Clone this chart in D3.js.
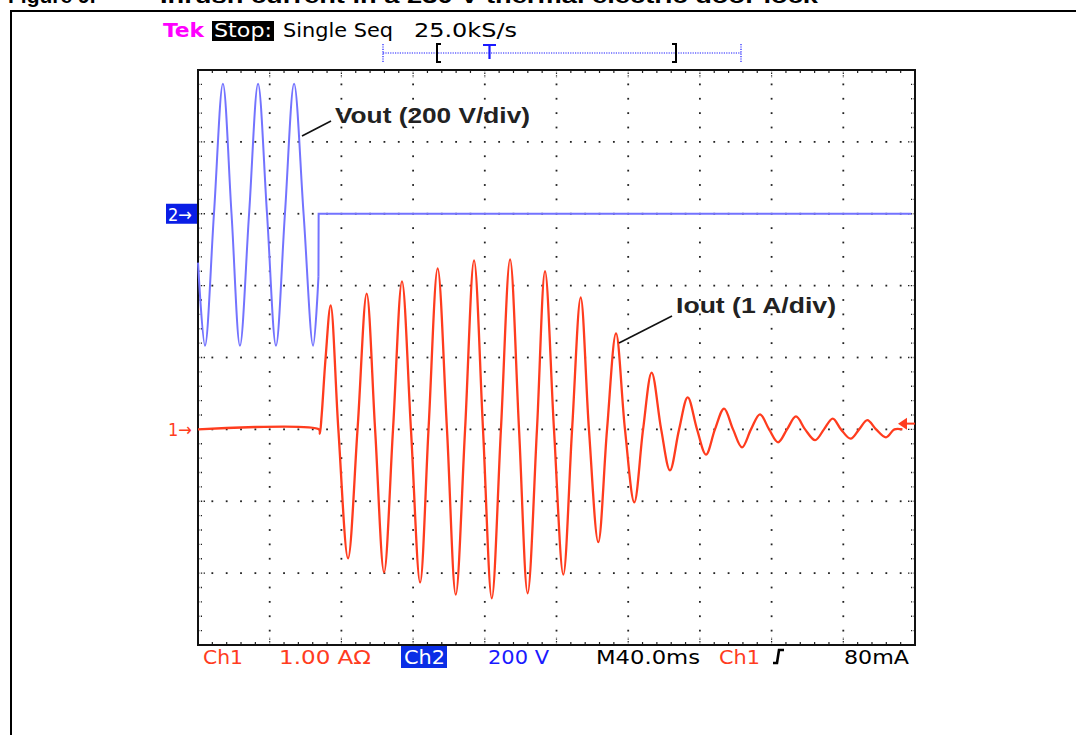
<!DOCTYPE html>
<html>
<head>
<meta charset="utf-8">
<script src="https://cdn.jsdelivr.net/npm/d3@7"></script>
<style>
  html, body { margin: 0; padding: 0; background: #fff; }
  svg { display: block; }
</style>
</head>
<body>
<svg id="chart" width="1076" height="735"></svg>
<script>
// ---------------- DATA ----------------
// Channel 2 : Vout (V), time in ms from left edge of screen (40 ms/div)
const voutTime  = [0, 3.9, 8.9, 13.9, 18.7, 23.4, 28.5, 33.5, 38.5, 43.5, 48.5, 53.6, 58.9, 64.2, 67.2];
const voutVolts = [-136, -367, 0, 362, 0, -367, 0, 362, 0, -367, 0, 362, 0, -367, -175];
// after the supply is cut: the trace jumps back to 0 V and stays flat
const voutOffTime  = [67.2, 67.3, 150, 250, 398];
const voutOffVolts = [-175, 0, 0, 0, 0];

// Channel 1 : Iout (A)
const ioutTime = [0, 67.5, 68.0, 69.0, 71.2, 74.0, 78.3, 83.7, 89.0, 94.1, 98.8, 103.8, 108.8, 113.8,
  118.8, 123.9, 128.6, 133.7, 138.9, 143.8, 149.0, 154.0, 159.0, 163.9, 169.0, 174.1, 179.1, 183.9,
  189.1, 193.6, 198.6, 203.8, 208.7, 213.5, 218.1, 223.3, 228.2, 233.2, 238.2, 243.4, 248.3, 253.1,
  258.4, 263.3, 268.4, 273.2, 278.4, 283.4, 288.4, 293.5, 298.5, 303.5, 308.5, 313.5, 318.6, 323.6,
  328.6, 333.6, 338.7, 344.3, 349.2, 354.1, 358.7, 364.1, 368.8, 373.4, 378.3, 383.8, 388.5, 393];
const ioutAmps = [0, 0, -0.06, 0.2, 1.0, 1.725, 0, -1.795, 0, 1.89, 0, -1.99, 0, 2.06,
  0, -2.13, 0, 2.24, 0, -2.30, 0, 2.35, 0, -2.35, 0, 2.365, 0, -2.28,
  0, 2.20, 0, -2.02, 0, 1.835, 0, -1.57, 0, 1.335, 0, -1.015, 0, 0.79,
  0, -0.57, 0, 0.445, 0, -0.35, 0, 0.29, 0, -0.25, 0, 0.21, 0, -0.18,
  0, 0.18, 0, -0.15, 0, 0.15, 0, -0.13, 0, 0.13, 0, -0.11, 0, 0];

// Scope settings / labels
const titleFig   = "Figure 9.";
const titleText  = "Inrush current in a 230 V thermal electric door lock";
const headerLabels = ["Tek", "Stop:", "Single Seq", "25.0kS/s"];
const footerLabels = ["Ch1", "1.00 AΩ", "Ch2", "200 V", "M40.0ms", "Ch1", "80mA"];
const traceLabels  = ["Vout (200 V/div)", "Iout (1 A/div)"];
const timeDomain = [0, 400];      // ms across 10 div
const currentDomain = [-3, 5];    // A across 8 div (ch1 ground 5 div from top)
const voltDomain = [-1200, 400];  // V across 8 div (ch2 ground 2 div from top)
const triggerLevel = 0.08;        // A

// ---------------- LAYOUT ----------------
const L = 198, R = 915, T = 70, B = 645;
const RED = "#ff3c1e", BLUE_TRACE = "#7373ff", BLUE = "#1a1aff", MAG = "#ff00ff";
const SCOPE_FONT = "'DejaVu Sans Condensed', 'DejaVu Sans', sans-serif";

const svg = d3.select("#chart");

const x  = d3.scaleLinear().domain(timeDomain).range([L, R]);
const yI = d3.scaleLinear().domain(currentDomain).range([B, T]);
const yV = d3.scaleLinear().domain(voltDomain).range([B, T]);
const gx = d3.scaleLinear().domain([0, 10]).range([L, R]);
const gy = d3.scaleLinear().domain([0, 8]).range([T, B]);

// outer figure frame
svg.append("rect").attr("x", 11).attr("y", 11).attr("width", 1100).attr("height", 800)
  .attr("fill", "none").attr("stroke", "#000").attr("stroke-width", 2);

// clipped title (only the lower part is visible, as in the reference)
svg.append("text").attr("x", 8).attr("y", 3)
  .attr("font-family", "'Liberation Sans', Arial, sans-serif").attr("font-weight", "bold")
  .attr("font-size", 21).text(titleFig);
svg.append("text").attr("x", 160).attr("y", 3)
  .attr("font-family", "'Liberation Sans', Arial, sans-serif").attr("font-weight", "bold")
  .attr("font-size", 21).attr("textLength", 658).attr("lengthAdjust", "spacingAndGlyphs")
  .text(titleText);

// ---------------- GRATICULE ----------------
const grat = svg.append("g");
const minorX = d3.range(0, 50 + 1).map(i => i / 5);
const minorY = d3.range(0, 40 + 1).map(i => i / 5);
const dot = 1.8;
// dotted vertical major lines
d3.range(1, 10).forEach(i => {
  minorY.slice(1, -1).forEach(j => {
    grat.append("rect").attr("x", gx(i) - dot / 2).attr("y", gy(j) - dot / 2)
      .attr("width", dot).attr("height", dot).attr("fill", "#222");
  });
});
// dotted horizontal major lines
d3.range(1, 8).forEach(j => {
  minorX.slice(1, -1).forEach(i => {
    if (Number.isInteger(i)) return;
    grat.append("rect").attr("x", gx(i) - dot / 2).attr("y", gy(j) - dot / 2)
      .attr("width", dot).attr("height", dot).attr("fill", "#222");
  });
});
// border minor ticks
minorX.slice(1, -1).forEach(i => {
  const len = Number.isInteger(i) ? 8 : 3;
  [[T, 1], [B, -1]].forEach(([yy, s]) => {
    grat.append("line").attr("x1", gx(i)).attr("x2", gx(i))
      .attr("y1", yy).attr("y2", yy + s * len)
      .attr("stroke", "#222").attr("stroke-width", 1.2)
      .attr("stroke-dasharray", Number.isInteger(i) ? "1.3,1.3" : null);
  });
});
minorY.slice(1, -1).forEach(j => {
  const len = Number.isInteger(j) ? 8 : 4;
  [[L, 1], [R, -1]].forEach(([xx, s]) => {
    grat.append("line").attr("y1", gy(j)).attr("y2", gy(j))
      .attr("x1", xx).attr("x2", xx + s * len)
      .attr("stroke", "#222").attr("stroke-width", 1.3)
      .attr("stroke-dasharray", "1.4,1.4");
  });
});
// screen border
grat.append("rect").attr("x", L).attr("y", T).attr("width", R - L).attr("height", B - T)
  .attr("fill", "none").attr("stroke", "#111").attr("stroke-width", 2);

// ---------------- TRACES ----------------
const curve = d3.curveCatmullRom.alpha(0.5);
const lineV = d3.line().x(d => x(d[0])).y(d => yV(d[1])).curve(curve);
const lineVoff = d3.line().x(d => x(d[0])).y(d => yV(d[1]));
const lineI = d3.line().x(d => x(d[0])).y(d => yI(d[1])).curve(curve);

svg.append("path").datum(d3.zip(voutTime, voutVolts)).attr("d", lineV)
  .attr("fill", "none").attr("stroke", BLUE_TRACE).attr("stroke-width", 2);
svg.append("path").datum(d3.zip(voutOffTime, voutOffVolts)).attr("d", lineVoff)
  .attr("fill", "none").attr("stroke", BLUE_TRACE).attr("stroke-width", 2);
svg.append("path").datum(d3.zip(ioutTime, ioutAmps)).attr("d", lineI)
  .attr("fill", "none").attr("stroke", RED).attr("stroke-width", 2.3);

// ---------------- MARKERS ----------------
// ch2 ground marker
const ch2y = yV(0);
svg.append("rect").attr("x", 166).attr("y", ch2y - 10).attr("width", 31).attr("height", 20).attr("fill", "#0a1ee6");
svg.append("text").attr("x", 168).attr("y", ch2y + 7).attr("fill", "#fff")
  .attr("font-family", SCOPE_FONT).attr("font-size", 18).text("2→");
// ch1 ground marker
const ch1y = yI(0);
svg.append("text").attr("x", 168).attr("y", ch1y + 7).attr("fill", RED)
  .attr("font-family", SCOPE_FONT).attr("font-size", 18).text("1→");
// trigger level arrow
const trY = yI(triggerLevel);
svg.append("path").attr("d", `M${R - 17},${trY} L${R - 8},${trY - 6} L${R - 8},${trY + 6} Z`).attr("fill", RED);
svg.append("line").attr("x1", R - 9).attr("x2", R).attr("y1", trY).attr("y2", trY)
  .attr("stroke", RED).attr("stroke-width", 2);

// ---------------- HEADER ----------------
const hdrY = 37;
svg.append("text").attr("x", 163).attr("y", hdrY).attr("fill", MAG)
  .attr("font-family", SCOPE_FONT).attr("font-size", 20).attr("font-weight", "bold")
  .attr("textLength", 41).attr("lengthAdjust", "spacingAndGlyphs").text(headerLabels[0]);
svg.append("rect").attr("x", 212).attr("y", 21).attr("width", 62).attr("height", 20).attr("fill", "#000");
svg.append("text").attr("x", 214).attr("y", hdrY).attr("fill", "#fff")
  .attr("font-family", SCOPE_FONT).attr("font-size", 19)
  .attr("textLength", 58).attr("lengthAdjust", "spacingAndGlyphs").text(headerLabels[1]);
svg.append("text").attr("x", 283).attr("y", hdrY).attr("fill", "#000")
  .attr("font-family", SCOPE_FONT).attr("font-size", 19)
  .attr("textLength", 110).attr("lengthAdjust", "spacingAndGlyphs").text(headerLabels[2]);
svg.append("text").attr("x", 414).attr("y", hdrY).attr("fill", "#000")
  .attr("font-family", SCOPE_FONT).attr("font-size", 19)
  .attr("textLength", 103).attr("lengthAdjust", "spacingAndGlyphs").text(headerLabels[3]);

// record length bar
const barY = 53;
svg.append("line").attr("x1", 383).attr("x2", 741).attr("y1", barY).attr("y2", barY)
  .attr("stroke", BLUE).attr("stroke-width", 1.2).attr("stroke-dasharray", "1.2,1.2");
[383, 741].forEach(xx => svg.append("line").attr("x1", xx).attr("x2", xx).attr("y1", 44).attr("y2", 63)
  .attr("stroke", BLUE).attr("stroke-width", 1.2).attr("stroke-dasharray", "1.2,1.2"));
svg.append("path").attr("d", "M441,44 L437,44 L437,62 L441,62").attr("fill", "none").attr("stroke", "#000").attr("stroke-width", 2);
svg.append("path").attr("d", "M672,44 L676,44 L676,62 L672,62").attr("fill", "none").attr("stroke", "#000").attr("stroke-width", 2);
svg.append("path").attr("d", "M483,45 L496,45 M489.5,45 L489.5,59").attr("fill", "none").attr("stroke", BLUE).attr("stroke-width", 2.2);

// ---------------- FOOTER ----------------
const ftY = 664;
const foot = (txt, x0, w, color) => svg.append("text").attr("x", x0).attr("y", ftY).attr("fill", color)
  .attr("font-family", SCOPE_FONT).attr("font-size", 20)
  .attr("textLength", w).attr("lengthAdjust", "spacingAndGlyphs").text(txt);
foot(footerLabels[0], 203, 40, RED);
foot(footerLabels[1], 279, 92, RED);
svg.append("rect").attr("x", 401).attr("y", 646).attr("width", 46).attr("height", 22).attr("fill", "#0a2ee6");
foot(footerLabels[2], 404, 41, "#fff");
foot(footerLabels[3], 488, 61, BLUE);
foot(footerLabels[4], 596, 104, "#000");
foot(footerLabels[5], 719, 41, RED);
svg.append("path").attr("d", "M773,663 L777,663 L779,650 L784,650").attr("fill", "none")
  .attr("stroke", "#000").attr("stroke-width", 2.6);
foot(footerLabels[6], 844, 65, "#000");

// ---------------- TRACE LABELS ----------------
svg.append("line").attr("x1", 302).attr("y1", 136).attr("x2", 331).attr("y2", 121)
  .attr("stroke", "#111").attr("stroke-width", 1.6);
svg.append("text").attr("x", 335).attr("y", 123)
  .attr("font-family", "'Liberation Sans', Arial, sans-serif").attr("font-weight", "bold")
  .attr("font-size", 22).attr("fill", "#222")
  .attr("textLength", 195).attr("lengthAdjust", "spacingAndGlyphs").text(traceLabels[0]);
svg.append("line").attr("x1", 619).attr("y1", 343).attr("x2", 672).attr("y2", 316)
  .attr("stroke", "#111").attr("stroke-width", 1.6);
svg.append("text").attr("x", 676).attr("y", 313)
  .attr("font-family", "'Liberation Sans', Arial, sans-serif").attr("font-weight", "bold")
  .attr("font-size", 22).attr("fill", "#222")
  .attr("textLength", 160).attr("lengthAdjust", "spacingAndGlyphs").text(traceLabels[1]);
</script>
</body>
</html>
